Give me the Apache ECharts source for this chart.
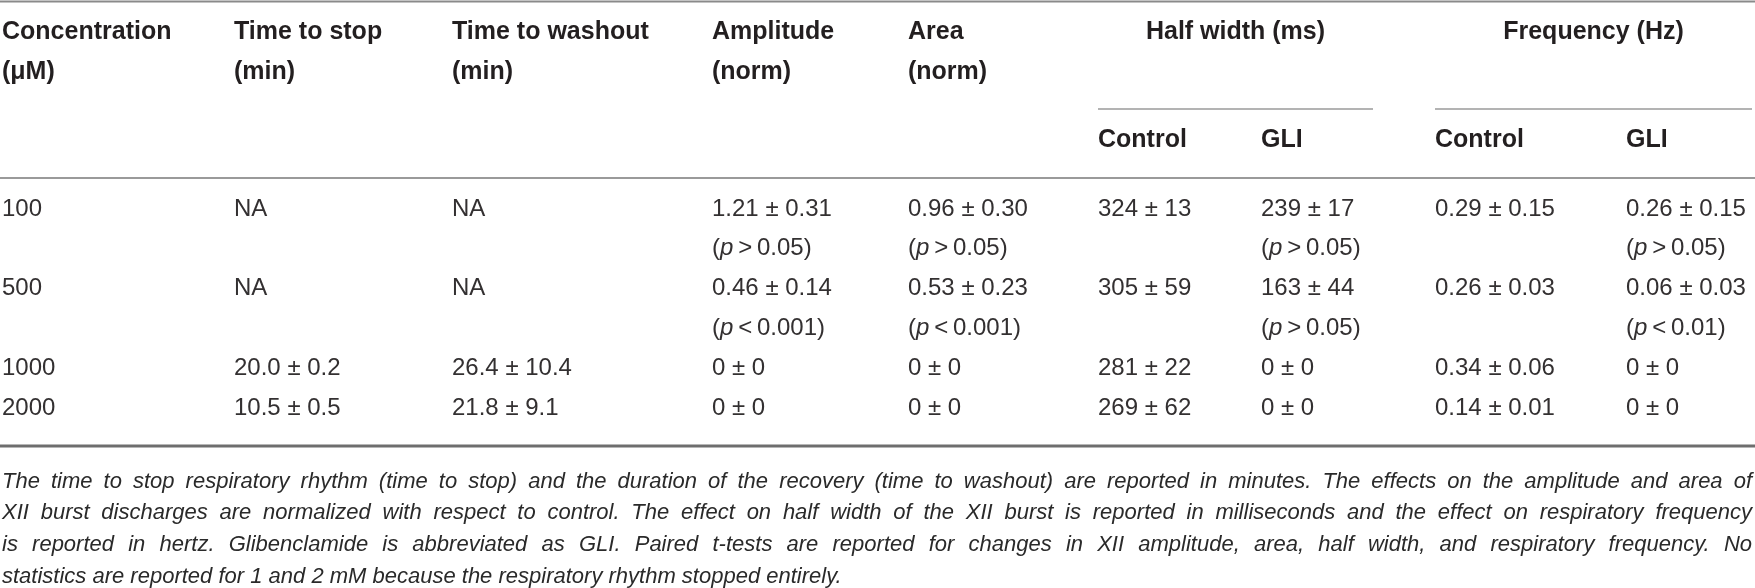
<!DOCTYPE html>
<html>
<head>
<meta charset="utf-8">
<script src="https://cdn.jsdelivr.net/npm/echarts@6/dist/echarts.min.js"></script>
<style>
  html, body { margin: 0; padding: 0; background: #fff; }
  #chart { width: 1755px; height: 588px; }
</style>
</head>
<body>
<div id="chart"></div>
<script>
// table content
const headTop = ['Concentration', 'Time to stop', 'Time to washout', 'Amplitude', 'Area'];
const headBottom = ['(μM)', '(min)', '(min)', '(norm)', '(norm)'];
const groupHeads = ['Half width (ms)', 'Frequency (Hz)'];
const subHeads = ['Control', 'GLI', 'Control', 'GLI'];

const concentrations = ['100', '500', '1000', '2000'];
const timeToStop = ['NA', 'NA', '20.0 ± 0.2', '10.5 ± 0.5'];
const timeToWashout = ['NA', 'NA', '26.4 ± 10.4', '21.8 ± 9.1'];
const amplitude = ['1.21 ± 0.31', '0.46 ± 0.14', '0 ± 0', '0 ± 0'];
const amplitudeP = ['> 0.05', '< 0.001', '', ''];
const area = ['0.96 ± 0.30', '0.53 ± 0.23', '0 ± 0', '0 ± 0'];
const areaP = ['> 0.05', '< 0.001', '', ''];
const halfControl = ['324 ± 13', '305 ± 59', '281 ± 22', '269 ± 62'];
const halfGli = ['239 ± 17', '163 ± 44', '0 ± 0', '0 ± 0'];
const halfGliP = ['> 0.05', '> 0.05', '', ''];
const freqControl = ['0.29 ± 0.15', '0.26 ± 0.03', '0.34 ± 0.06', '0.14 ± 0.01'];
const freqGli = ['0.26 ± 0.15', '0.06 ± 0.03', '0 ± 0', '0 ± 0'];
const freqGliP = ['> 0.05', '< 0.01', '', ''];

const captionLines = [
  'The time to stop respiratory rhythm (time to stop) and the duration of the recovery (time to washout) are reported in minutes. The effects on the amplitude and area of',
  'XII burst discharges are normalized with respect to control. The effect on half width of the XII burst is reported in milliseconds and the effect on respiratory frequency',
  'is reported in hertz. Glibenclamide is abbreviated as GLI. Paired t-tests are reported for changes in XII amplitude, area, half width, and respiratory frequency. No',
  'statistics are reported for 1 and 2 mM because the respiratory rhythm stopped entirely.'
];

// layout
const FONT = '"Liberation Sans", Arial, sans-serif';
const INK = '#231f20';
const BODY_INK = '#333031';
const colX = [2, 234, 452, 712, 908, 1098, 1261, 1435, 1626];
const headY = [32, 72];
const subHeadY = 140;
const firstLineY = 209;
const lineStep = 39.8;
const captionY = [482, 513, 545, 577];
const captionLeft = 2;
const captionRight = 1752;

const chart = echarts.init(document.getElementById('chart'), null, { renderer: 'canvas' });
const els = [];

function text(x, y, str, opts) {
  opts = opts || {};
  els.push({
    type: 'text',
    x: x,
    y: y,
    style: Object.assign({
      text: str,
      fontFamily: FONT,
      fontSize: 24,
      fill: BODY_INK,
      align: opts.align || 'left',
      verticalAlign: 'middle',
      textAlign: opts.align || 'left',
      textVerticalAlign: 'middle'
    }, opts.style || {})
  });
}

function rule(x1, x2, y, width, color) {
  els.push({
    type: 'line',
    shape: { x1: x1, y1: y, x2: x2, y2: y },
    style: { stroke: color, lineWidth: width }
  });
}

function pValue(x, y, p) {
  if (!p) return;
  text(x, y, '({i|p}\u2009' + p.replace(' ', '\u2009') + ')', {
    style: {
      rich: { i: { fontStyle: 'italic', fontFamily: FONT, fontSize: 24, fill: BODY_INK } }
    }
  });
}

const head = { style: { fontWeight: 'bold', fontSize: 25, fill: INK } };

// rules
rule(0, 1755, 1.5, 2, '#8a8a8a');
rule(colX[5], 1373, 109, 1.5, '#9a9a9a');
rule(colX[7], 1752, 109, 1.5, '#9a9a9a');
rule(0, 1755, 178, 2, '#9a9a9a');
rule(0, 1755, 446, 3, '#6e6e6e');

// header
headTop.forEach(function (t, i) { text(colX[i], headY[0], t, head); });
headBottom.forEach(function (t, i) { text(colX[i], headY[1], t, head); });
text((colX[5] + 1373) / 2, headY[0], groupHeads[0], { align: 'center', style: head.style });
text((colX[7] + 1752) / 2, headY[0], groupHeads[1], { align: 'center', style: head.style });
subHeads.forEach(function (t, i) { text(colX[5 + i], subHeadY, t, head); });

// body
let line = 0;
concentrations.forEach(function (c, r) {
  const y1 = firstLineY + lineStep * line;
  const y2 = y1 + lineStep;
  const cells = [c, timeToStop[r], timeToWashout[r], amplitude[r], area[r],
    halfControl[r], halfGli[r], freqControl[r], freqGli[r]];
  cells.forEach(function (v, i) { text(colX[i], y1, v); });
  pValue(colX[3], y2, amplitudeP[r]);
  pValue(colX[4], y2, areaP[r]);
  pValue(colX[6], y2, halfGliP[r]);
  pValue(colX[8], y2, freqGliP[r]);
  const hasP = amplitudeP[r] || areaP[r] || halfGliP[r] || freqGliP[r];
  line += hasP ? 2 : 1;
});

// caption, justified word by word
const ctx = document.createElement('canvas').getContext('2d');
let capSize = 22;
ctx.font = 'italic ' + capSize + 'px ' + FONT;
const natural = ctx.measureText(captionLines[0]).width;
if (natural > captionRight - captionLeft) {
  capSize = capSize * (captionRight - captionLeft) / natural;
}
ctx.font = 'italic ' + capSize + 'px ' + FONT;
const capStyle = { style: { fontStyle: 'italic', fontSize: capSize, fill: '#2a2a2a' } };
captionLines.forEach(function (ln, k) {
  const words = ln.split(' ');
  const widths = words.map(function (w) { return ctx.measureText(w).width; });
  const sum = widths.reduce(function (a, b) { return a + b; }, 0);
  const last = k === captionLines.length - 1;
  const gap = last ? ctx.measureText(' ').width : (captionRight - captionLeft - sum) / (words.length - 1);
  let x = captionLeft;
  words.forEach(function (w, j) {
    text(x, captionY[k], w, capStyle);
    x += widths[j] + gap;
  });
});

chart.setOption({
  backgroundColor: '#ffffff',
  animation: false,
  graphic: { elements: els }
});
</script>
</body>
</html>
